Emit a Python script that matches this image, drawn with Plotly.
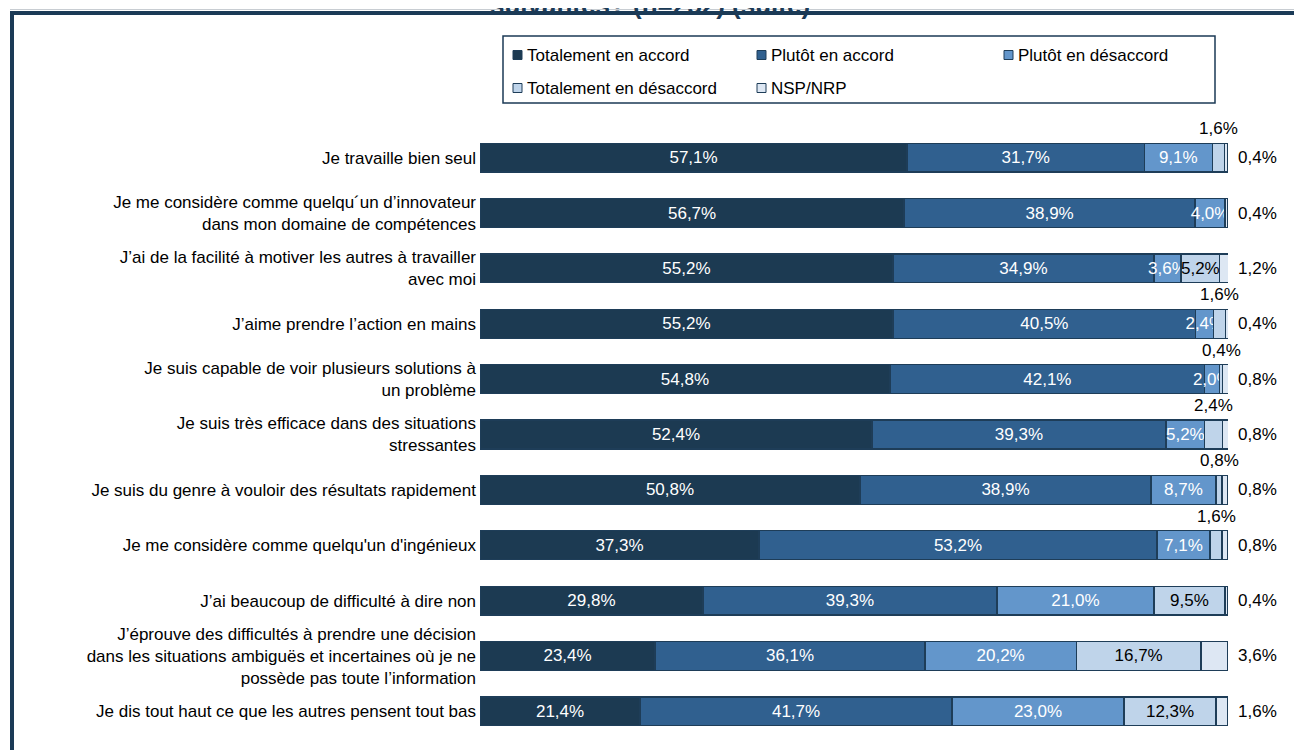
import plotly.graph_objects as go

categories = [
    "Je travaille bien seul",
    "Je me considère comme quelqu´un d’innovateur<br>dans mon domaine de compétences",
    "J’ai de la facilité à motiver les autres à travailler<br>avec moi",
    "J’aime prendre l’action en mains",
    "Je suis capable de voir plusieurs solutions à<br>un problème",
    "Je suis très efficace dans des situations<br>stressantes",
    "Je suis du genre à vouloir des résultats rapidement",
    "Je me considère comme quelqu'un d'ingénieux",
    "J’ai beaucoup de difficulté à dire non",
    "J’éprouve des difficultés à prendre une décision<br>dans les situations ambiguës et incertaines où je ne<br>possède pas toute l’information",
    "Je dis tout haut ce que les autres pensent tout bas",
]

series_names = ["Totalement en accord", "Plutôt en accord", "Plutôt en désaccord",
                "Totalement en désaccord", "NSP/NRP"]

tot_accord = [57.1, 56.7, 55.2, 55.2, 54.8, 52.4, 50.8, 37.3, 29.8, 23.4, 21.4]
plutot_accord = [31.7, 38.9, 34.9, 40.5, 42.1, 39.3, 38.9, 53.2, 39.3, 36.1, 41.7]
plutot_desaccord = [9.1, 4.0, 3.6, 2.4, 2.0, 5.2, 8.7, 7.1, 21.0, 20.2, 23.0]
tot_desaccord = [1.6, 0.0, 5.2, 1.6, 0.4, 2.4, 0.8, 1.6, 9.5, 16.7, 12.3]
nsp = [0.4, 0.4, 1.2, 0.4, 0.8, 0.8, 0.8, 0.8, 0.4, 3.6, 1.6]

# where the "Totalement en désaccord" label is drawn: inside the bar, above it, or not at all
tot_desaccord_label_pos = ["above", "none", "inside", "above", "above", "above",
                           "above", "above", "inside", "inside", "inside"]

title_text = "suivantes? (n=252) (suite)"

colors = ["#1C3A52", "#30608F", "#6396CB", "#BFD4EA", "#DDE7F3"]
outline = "#1E3D58"
navy = "#1B3A56"
FONT = "Liberation Sans, Arial, sans-serif"
FS = 17

def fmt(v):
    return f"{v:.1f}".replace(".", ",") + "%"

# the page body has an 8px margin: the figure is drawn shifted by 8px
OFF = 8
W, H = 1302, 750
# plot area in screenshot pixels
L, R, T, B = 480, 1228, 130, 739


def px(xp):
    return (xp - L) / (R - L)


def py(yp):
    return (B - yp) / (B - T)


fig = go.Figure()
all_series = [tot_accord, plutot_accord, plutot_desaccord, tot_desaccord, nsp]
for i, (name, vals) in enumerate(zip(series_names, all_series)):
    if i < 3:
        texts = [fmt(v) for v in vals]
        tcolor = "white"
    elif i == 3:
        texts = [fmt(v) if p == "inside" else "" for v, p in zip(vals, tot_desaccord_label_pos)]
        tcolor = "black"
    else:
        texts = ["" for v in vals]
        tcolor = "black"
    fig.add_trace(go.Bar(
        name=name, y=categories, x=vals, orientation="h",
        marker=dict(color=colors[i], line=dict(color=outline, width=1.3)),
        text=texts, textposition="inside", insidetextanchor="middle",
        textangle=0, constraintext="none",
        insidetextfont=dict(family=FONT, size=FS, color=tcolor),
        hoverinfo="x+y", showlegend=False,
    ))

annotations = []
for k, cat in enumerate(categories):
    start = tot_accord[k] + plutot_accord[k] + plutot_desaccord[k]
    if tot_desaccord_label_pos[k] == "above":
        annotations.append(dict(x=start + tot_desaccord[k] / 2, y=cat, xref="x", yref="y",
                                text=fmt(tot_desaccord[k]), showarrow=False, yshift=29,
                                font=dict(family=FONT, size=FS, color="black")))
    # NSP/NRP label right of the bar
    annotations.append(dict(x=px(1236), y=cat, xref="paper", yref="y", xanchor="left",
                            text=fmt(nsp[k]), showarrow=False,
                            font=dict(family=FONT, size=FS, color="black")))

# title (only its lower part is visible)
annotations.append(dict(x=px(650), y=py(22), xref="paper", yref="paper", xanchor="center",
                        yanchor="bottom", text="<b>" + title_text + "</b>", showarrow=False,
                        font=dict(family=FONT, size=26, color=navy)))

shapes = [
    dict(type="line", xref="paper", yref="paper", x0=px(10), x1=px(1330), y0=py(9.5), y1=py(9.5),
         line=dict(color="#C8CDD2", width=1)),
    dict(type="line", xref="paper", yref="paper", x0=px(10), x1=px(1330), y0=py(13), y1=py(13),
         line=dict(color=navy, width=4)),
    dict(type="line", xref="paper", yref="paper", x0=px(12), x1=px(12), y0=py(11), y1=py(780),
         line=dict(color=navy, width=4)),
]

# legend box drawn by hand to match the original layout
legend_box = dict(x0=503, x1=1215, y0=36, y1=103)
legend_items = [  # (marker left x, row center y)
    (513, 55), (757, 55), (1004, 55),
    (513, 88), (757, 88),
]
shapes.append(dict(type="rect", xref="paper", yref="paper",
                   x0=px(legend_box["x0"]), x1=px(legend_box["x1"]),
                   y0=py(legend_box["y1"]), y1=py(legend_box["y0"]),
                   line=dict(color=navy, width=1.5), fillcolor="white", layer="below"))
for name, col, (mx, my) in zip(series_names, colors, legend_items):
    shapes.append(dict(type="rect", xref="paper", yref="paper",
                       x0=px(mx), x1=px(mx + 9), y0=py(my + 4.5), y1=py(my - 4.5),
                       line=dict(color=outline, width=1), fillcolor=col))
    annotations.append(dict(x=px(mx + 12), y=py(my), xref="paper", yref="paper",
                            xanchor="left", yanchor="middle", text=name, showarrow=False,
                            font=dict(family=FONT, size=FS, color="black")))

fig.update_layout(
    width=W, height=H,
    margin=dict(l=L - OFF, r=W - (R - OFF), t=T - OFF, b=H - (B - OFF), pad=0),
    barmode="stack", bargap=0.48,
    plot_bgcolor="white", paper_bgcolor="white",
    font=dict(family=FONT, size=FS, color="black"),
    xaxis=dict(range=[0, 100], visible=False, fixedrange=True),
    yaxis=dict(autorange="reversed", showgrid=False, showline=False, ticks="",
               tickfont=dict(family=FONT, size=FS, color="black"), ticklabelstandoff=3),
    showlegend=False,
    annotations=annotations,
    shapes=shapes,
)

fig.write_html("out.html")
